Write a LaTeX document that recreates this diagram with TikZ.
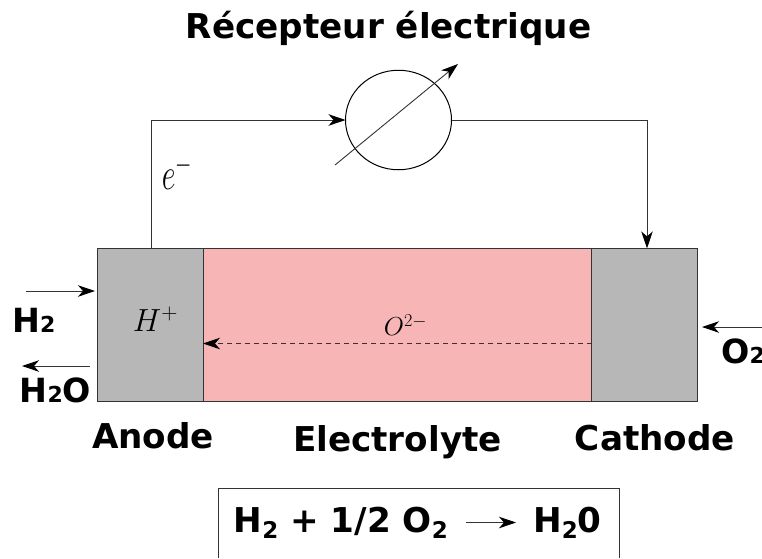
\RequirePackage{fix-cm}
\documentclass[tikz,border=0pt]{standalone}
\usepackage{fontspec}
\setmainfont{DejaVu Sans}
\usetikzlibrary{arrows.meta,shapes.geometric}
\definecolor{pinkfill}{RGB}{247,181,181}
\definecolor{grayfill}{RGB}{183,183,183}
\newcommand{\sbs}[1]{{\fontsize{22}{22}\selectfont #1}}
\newcommand{\lowsub}[1]{\raisebox{-6.5pt}{\fontsize{23}{23}\selectfont #1}}
\tikzset{
  x=1pt,y=-1pt,
  wire/.style={draw=black!80!white,line width=1pt,-{Stealth[length=17pt,width=11.5pt,inset=5pt,color=black]}},
  thin wire/.style={wire,line width=0.9pt},
  cell/.style={draw=black!80!white,line width=1pt,minimum height=153.5pt,inner sep=0pt,outer sep=0pt},
  gray part/.style={cell,fill=grayfill,minimum width=106pt},
  bigtxt/.style={font=\fontsize{34.2}{40}\selectfont\bfseries,inner sep=0pt},
  midtxt/.style={font=\fontsize{33.3}{40}\selectfont\bfseries,inner sep=0pt},
  mathtxt/.style={inner sep=0pt},
}
\begin{document}
\begin{tikzpicture}
\useasboundingbox (0,0) rectangle (762,558);
\node[bigtxt,anchor=base] (title) at (388.5,38) {Récepteur électrique};
\node[gray part,anchor=north west] (anode) at (97.7,248.4) {};
\node[cell,fill=pinkfill,minimum width=388pt,anchor=north west] (electrolyte) at (203.7,248.4) {};
\node[gray part,minimum width=105.6pt,anchor=north west] (cathode) at (591.7,248.4) {};
\node[draw=black,line width=1pt,ellipse,minimum width=106pt,minimum height=99.5pt,inner sep=0pt,outer sep=0pt] (recv) at (398.5,120) {};
\coordinate (rs) at (335,165);
\coordinate (re) at (458,64);
\draw[thin wire] (rs) -- (re);
\coordinate (ac) at (151,120);
\coordinate (cc) at (647,120);
\coordinate (an) at (151,248.4);
\coordinate (cn) at (647,248.4);
\draw[wire] (an) -- (ac) -- (recv.west);
\draw[wire] (recv.east) -- (cc) -- (cn);
\coordinate (h2s) at (26,291);
\coordinate (h2e) at (95,291);
\coordinate (wos) at (90,366);
\coordinate (woe) at (22,366);
\coordinate (o2s) at (762,327);
\coordinate (o2e) at (702,327);
\coordinate (ds) at (592,343.5);
\coordinate (de) at (203,343.5);
\draw[thin wire] (h2s) -- (h2e);
\draw[thin wire] (wos) -- (woe);
\draw[thin wire] (o2s) -- (o2e);
\draw[thin wire,dash pattern=on 5pt off 4pt] (ds) -- (de);
\node[mathtxt,font=\fontsize{30}{36}\selectfont] (elec) at (177,172) {\scalebox{1}[1.5]{$e^{-}$}};
\node[mathtxt,font=\fontsize{32}{38}\selectfont] (hp) at (155.5,319) {$H^{+}$};
\node[mathtxt,font=\fontsize{26}{30}\selectfont] (oo) at (405.5,325) {$O^{2-}$};
\node[midtxt,anchor=base west] (h2) at (12,332) {H\sbs{2}};
\node[midtxt,anchor=base west] (h2o) at (19.5,402) {H\sbs{2}O};
\node[midtxt,anchor=base west] (o2) at (721,363) {O\sbs{2}};
\node[bigtxt,anchor=base] (l1) at (153,448) {Anode};
\node[bigtxt,anchor=base] (l2) at (397.5,451) {Electrolyte};
\node[bigtxt,anchor=base] (l3) at (655,450) {Cathode};
\node[bigtxt,anchor=base east] (eq1) at (448,532) {H\lowsub{2} + 1/2 O\lowsub{2}};
\node[bigtxt,anchor=base west] (eq2) at (533,532) {H\lowsub{2}0};
\draw[thin wire,shorten <=18pt,shorten >=17pt] (eq1.east |- 0,522.5) -- (eq2.west |- 0,522.5);
\coordinate (f1) at (218.5,558);
\coordinate (f2) at (218.5,488);
\coordinate (f3) at (619.5,488);
\coordinate (f4) at (619.5,558);
\draw[black!80!white,line width=1pt] (f1) -- (f2) -- (f3) -- (f4);
\end{tikzpicture}
\end{document}
